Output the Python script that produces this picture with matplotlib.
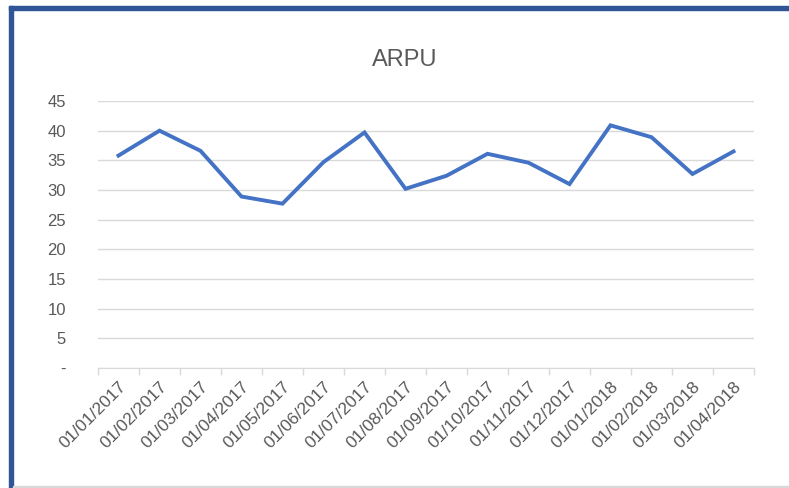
import matplotlib
matplotlib.use('Agg')
import matplotlib.pyplot as plt
from matplotlib.patches import Rectangle

# months shown on the category axis
labels = ['01/01/2017', '01/02/2017', '01/03/2017', '01/04/2017', '01/05/2017',
          '01/06/2017', '01/07/2017', '01/08/2017', '01/09/2017', '01/10/2017',
          '01/11/2017', '01/12/2017', '01/01/2018', '01/02/2018', '01/03/2018',
          '01/04/2018']
arpu = [35.8, 40.0, 36.6, 28.9, 27.7, 34.7, 39.7, 30.2, 32.4, 36.1,
        34.6, 31.0, 40.9, 38.9, 32.7, 36.5]
yticks = [0, 5, 10, 15, 20, 25, 30, 35, 40, 45]
ytick_labels = ['-', '5', '10', '15', '20', '25', '30', '35', '40', '45']

plt.rcParams['font.family'] = ['Liberation Sans', 'DejaVu Sans']

W, H = 789, 488
fig = plt.figure(figsize=(W / 100, H / 100), dpi=100)

# screenshot frame
fig.patches.append(Rectangle((9 / W, 0), 4 / W, (H - 6) / H, transform=fig.transFigure,
                             color='#2F5597', zorder=0))
fig.patches.append(Rectangle((9 / W, (H - 10) / H), 1 - 9 / W, 4 / H, transform=fig.transFigure,
                             color='#2F5597', zorder=0))
fig.patches.append(Rectangle((13 / W, 0), 1, 2 / H, transform=fig.transFigure,
                             color='#D9D9D9', zorder=0))

ax = fig.add_axes([98 / W, (H - 368) / H, (754 - 98) / W, (368 - 101) / H])

x = list(range(len(labels)))
ax.plot(x, arpu, color='#4472C4', linewidth=2.8, solid_joinstyle='miter', zorder=3)

ax.set_xlim(-0.5, len(labels) - 0.5)
ax.set_ylim(0, 45)
ax.set_yticks(yticks)
ax.set_yticklabels(ytick_labels)
ax.set_xticks(x)
ax.set_xticklabels(labels, rotation=45, ha='right', va='top', rotation_mode='anchor')

ax.yaxis.grid(True, color='#D9D9D9', linewidth=1)
ax.set_axisbelow(True)
for s in ['top', 'right', 'left']:
    ax.spines[s].set_visible(False)
ax.spines['bottom'].set_color('#D9D9D9')

# category boundary ticks
ax.set_xticks([i - 0.5 for i in range(len(labels) + 1)], minor=True)
ax.tick_params(axis='x', which='minor', length=5, color='#D9D9D9', width=1)
ax.tick_params(axis='x', which='major', length=0, pad=8, labelsize=12.5, labelcolor='#595959')
ax.tick_params(axis='y', length=0, pad=23, labelsize=12, labelcolor='#595959')

fig.text(405 / W, (H - 60) / H, 'ARPU', ha='center', va='center', fontsize=17,
         color='#595959')

fig.savefig('out.png', dpi=100)
